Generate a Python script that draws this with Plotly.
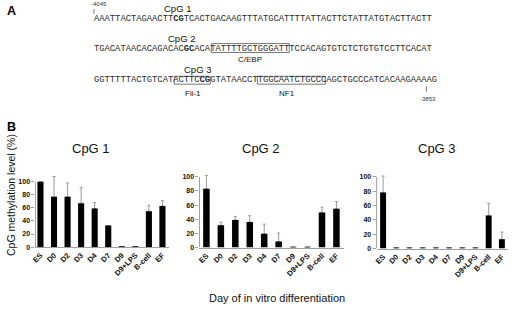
import plotly.graph_objects as go

W, H = 520, 310

# ---------------- data ----------------
categories = ["ES", "D0", "D2", "D3", "D4", "D7", "D9", "D9+LPS", "B-cell", "EF"]
cpg1_values = [100, 77, 77, 67, 59, 33, 0.8, 0.8, 55, 63]
cpg1_err = [0, 31, 21, 24, 9, 0, 0, 0, 9, 8]
cpg2_values = [83, 31.5, 39, 36, 19.5, 8.5, 0.8, 0.8, 49.5, 55]
cpg2_err = [19, 4.5, 5, 9, 13.5, 12, 0, 0, 7.5, 10]
cpg3_values = [78, 0.8, 0.8, 0.8, 0.8, 0.8, 0.8, 0.8, 46, 13]
cpg3_err = [23, 0, 0, 0, 0, 0, 0, 0, 17, 10]
y_ticks = [0, 20, 40, 60, 80, 100]
panel_titles = ["CpG 1", "CpG 2", "CpG 3"]

seq_lines = [
    "AAATTACTAGAACTTCGTCACTGACAAGTTTATGCATTTTATTACTTCTATTATGTACTTACTT",
    "TGACATAACACAGACACGCACATATTTTGCTGGGATTTCCACAGTGTCTCTGTGTCCTTCACAT",
    "GGTTTTTACTGTCATACTTCCGGTATAACCTTGGCAATCTGCCCAGCTGCCCATCACAAGAAAAG",
]
cg_index = [15, 17, 20]           # position of the CpG in each line
cpg_labels = ["CpG 1", "CpG 2", "CpG 3"]
motif_names = ["C/EBP", "Fli-1", "NF1"]
motif_line = [1, 2, 2]
motif_start = [22.7, 15.6, 31.5]  # in characters
motif_end = [37.6, 22.5, 44.5]
pos_start, pos_end = "-4045", "-3853"

# ---------------- helpers ----------------
def px(x):
    return x / W

def py(y):
    return 1 - y / H

SANS = "Liberation Sans, Arial, sans-serif"
MONO = "Liberation Mono, Courier New, monospace"

fig = go.Figure()
annotations = []
shapes = []

def label(x, y, text, size, family=SANS, color="#111", angle=0):
    annotations.append(dict(x=px(x), y=py(y), xref="paper", yref="paper", text=text,
                            showarrow=False, xanchor="center", yanchor="middle",
                            textangle=angle, borderpad=0,
                            font=dict(family=family, size=size, color=color)))

# ---------------- panel A ----------------
x0_seq = 89.3
cw = 5.27
line_y = [19.5, 49.5, 81]
cpg_label_y = [9, 39, 70.3]
cpg_label_x = [175, 178.5, 194.5]

for i, s in enumerate(seq_lines):
    k = cg_index[i]
    txt = s[:k] + "<b>" + s[k:k + 2] + "</b>" + s[k + 2:]
    annotations.append(dict(x=px(x0_seq), y=py(line_y[i]), xref="paper", yref="paper",
                            text=txt, showarrow=False, xanchor="left", yanchor="middle",
                            borderpad=0, font=dict(family=MONO, size=8.8, color="#2a2a2a")))
    label(cpg_label_x[i], cpg_label_y[i], cpg_labels[i], 9.5)

box_tb = [(44, 53), (77, 85), (77, 85)]
label_y = [60, 94.5, 94.5]
label_x = [248, 190.5, 285.5]
for j, name in enumerate(motif_names):
    xa = x0_seq + motif_start[j] * cw
    xb = x0_seq + motif_end[j] * cw
    t, b = box_tb[j]
    shapes.append(dict(type="rect", xref="paper", yref="paper", x0=px(xa), x1=px(xb),
                       y0=py(b), y1=py(t), line=dict(color="#555", width=0.8)))
    label(label_x[j], label_y[j], name, 8)

# position markers
label(95.5, 4, pos_start, 6, color="#333")
shapes.append(dict(type="line", xref="paper", yref="paper", x0=px(90.6), x1=px(90.6),
                   y0=py(9.3), y1=py(14), line=dict(color="#555", width=0.8)))
label(427.5, 99.5, pos_end, 6, color="#333")
shapes.append(dict(type="line", xref="paper", yref="paper", x0=px(425.7), x1=px(425.7),
                   y0=py(87), y1=py(92.5), line=dict(color="#555", width=0.8)))

# panel letters
label(7.5, 11.5, "<b>A</b>", 12.5, color="#000")
label(7.5, 128, "<b>B</b>", 12.5, color="#000")

# ---------------- panel B ----------------
series = [(cpg1_values, cpg1_err), (cpg2_values, cpg2_err), (cpg3_values, cpg3_err)]
x_dom_px = [(31.7, 166.5), (197, 342.3), (375.5, 508.4)]
x_rng = [(-0.37, 9.5), (-0.48, 9.5), (-0.49, 9.5)]
y_dom_px = [(249.5, 176.9), (250, 171.35), (251, 171.25)]
title_x = [88, 259, 436.5]
bar_w = 0.45

for i, (vals, errs) in enumerate(series):
    n = "" if i == 0 else str(i + 1)
    xa, ya = "x" + n, "y" + n
    # error bars (drawn first, covered at the bar top by the bars)
    fig.add_trace(go.Bar(x=categories, y=vals, xaxis=xa, yaxis=ya, width=bar_w,
                         marker=dict(color="rgba(0,0,0,0)", line=dict(width=0)),
                         error_y=dict(type="data", symmetric=False, array=errs,
                                      arrayminus=[0] * len(errs), color="#9a9a9a",
                                      thickness=1, width=1.5),
                         showlegend=False, hoverinfo="skip"))
    fig.add_trace(go.Bar(x=categories, y=vals, xaxis=xa, yaxis=ya, width=bar_w,
                         marker=dict(color="#000", line=dict(width=0)), showlegend=False))
    xd = x_dom_px[i]
    yd = y_dom_px[i]
    fig.layout["xaxis" + n] = dict(
        domain=[px(xd[0]), px(xd[1])], anchor=ya, type="category",
        range=list(x_rng[i]), tickangle=-45, showline=True, linecolor="#a0a0a0",
        linewidth=1, ticks="", showgrid=False, zeroline=False,
        tickfont=dict(family=SANS, size=7.5, color="#111", weight="bold"))
    fig.layout["yaxis" + n] = dict(
        domain=[py(yd[0]), py(yd[1])], anchor=xa, range=[0, 110],
        tickvals=y_ticks, showline=False, ticks="outside", ticklen=3, tickcolor="#a0a0a0",
        showgrid=False, zeroline=False,
        tickfont=dict(family=SANS, size=7, color="#111", weight="bold"))
    shapes.append(dict(type="line", xref=xa + " domain", yref=ya, x0=0, x1=0, y0=0, y1=100,
                       line=dict(color="#a0a0a0", width=1)))
    label(title_x[i], 149.5, panel_titles[i], 13)

label(7, 197, "CpG methylation level (%)", 10.5, angle=-90)
label(275, 301, "Day of in vitro differentiation", 11)

fig.update_layout(width=W, height=H, margin=dict(l=0, r=0, t=0, b=0),
                  paper_bgcolor="white", plot_bgcolor="white", barmode="overlay",
                  annotations=annotations, shapes=shapes)

fig.write_html("out.html", config={"displayModeBar": False},
               post_script="document.body.style.margin='0';document.body.style.overflow='hidden';")
